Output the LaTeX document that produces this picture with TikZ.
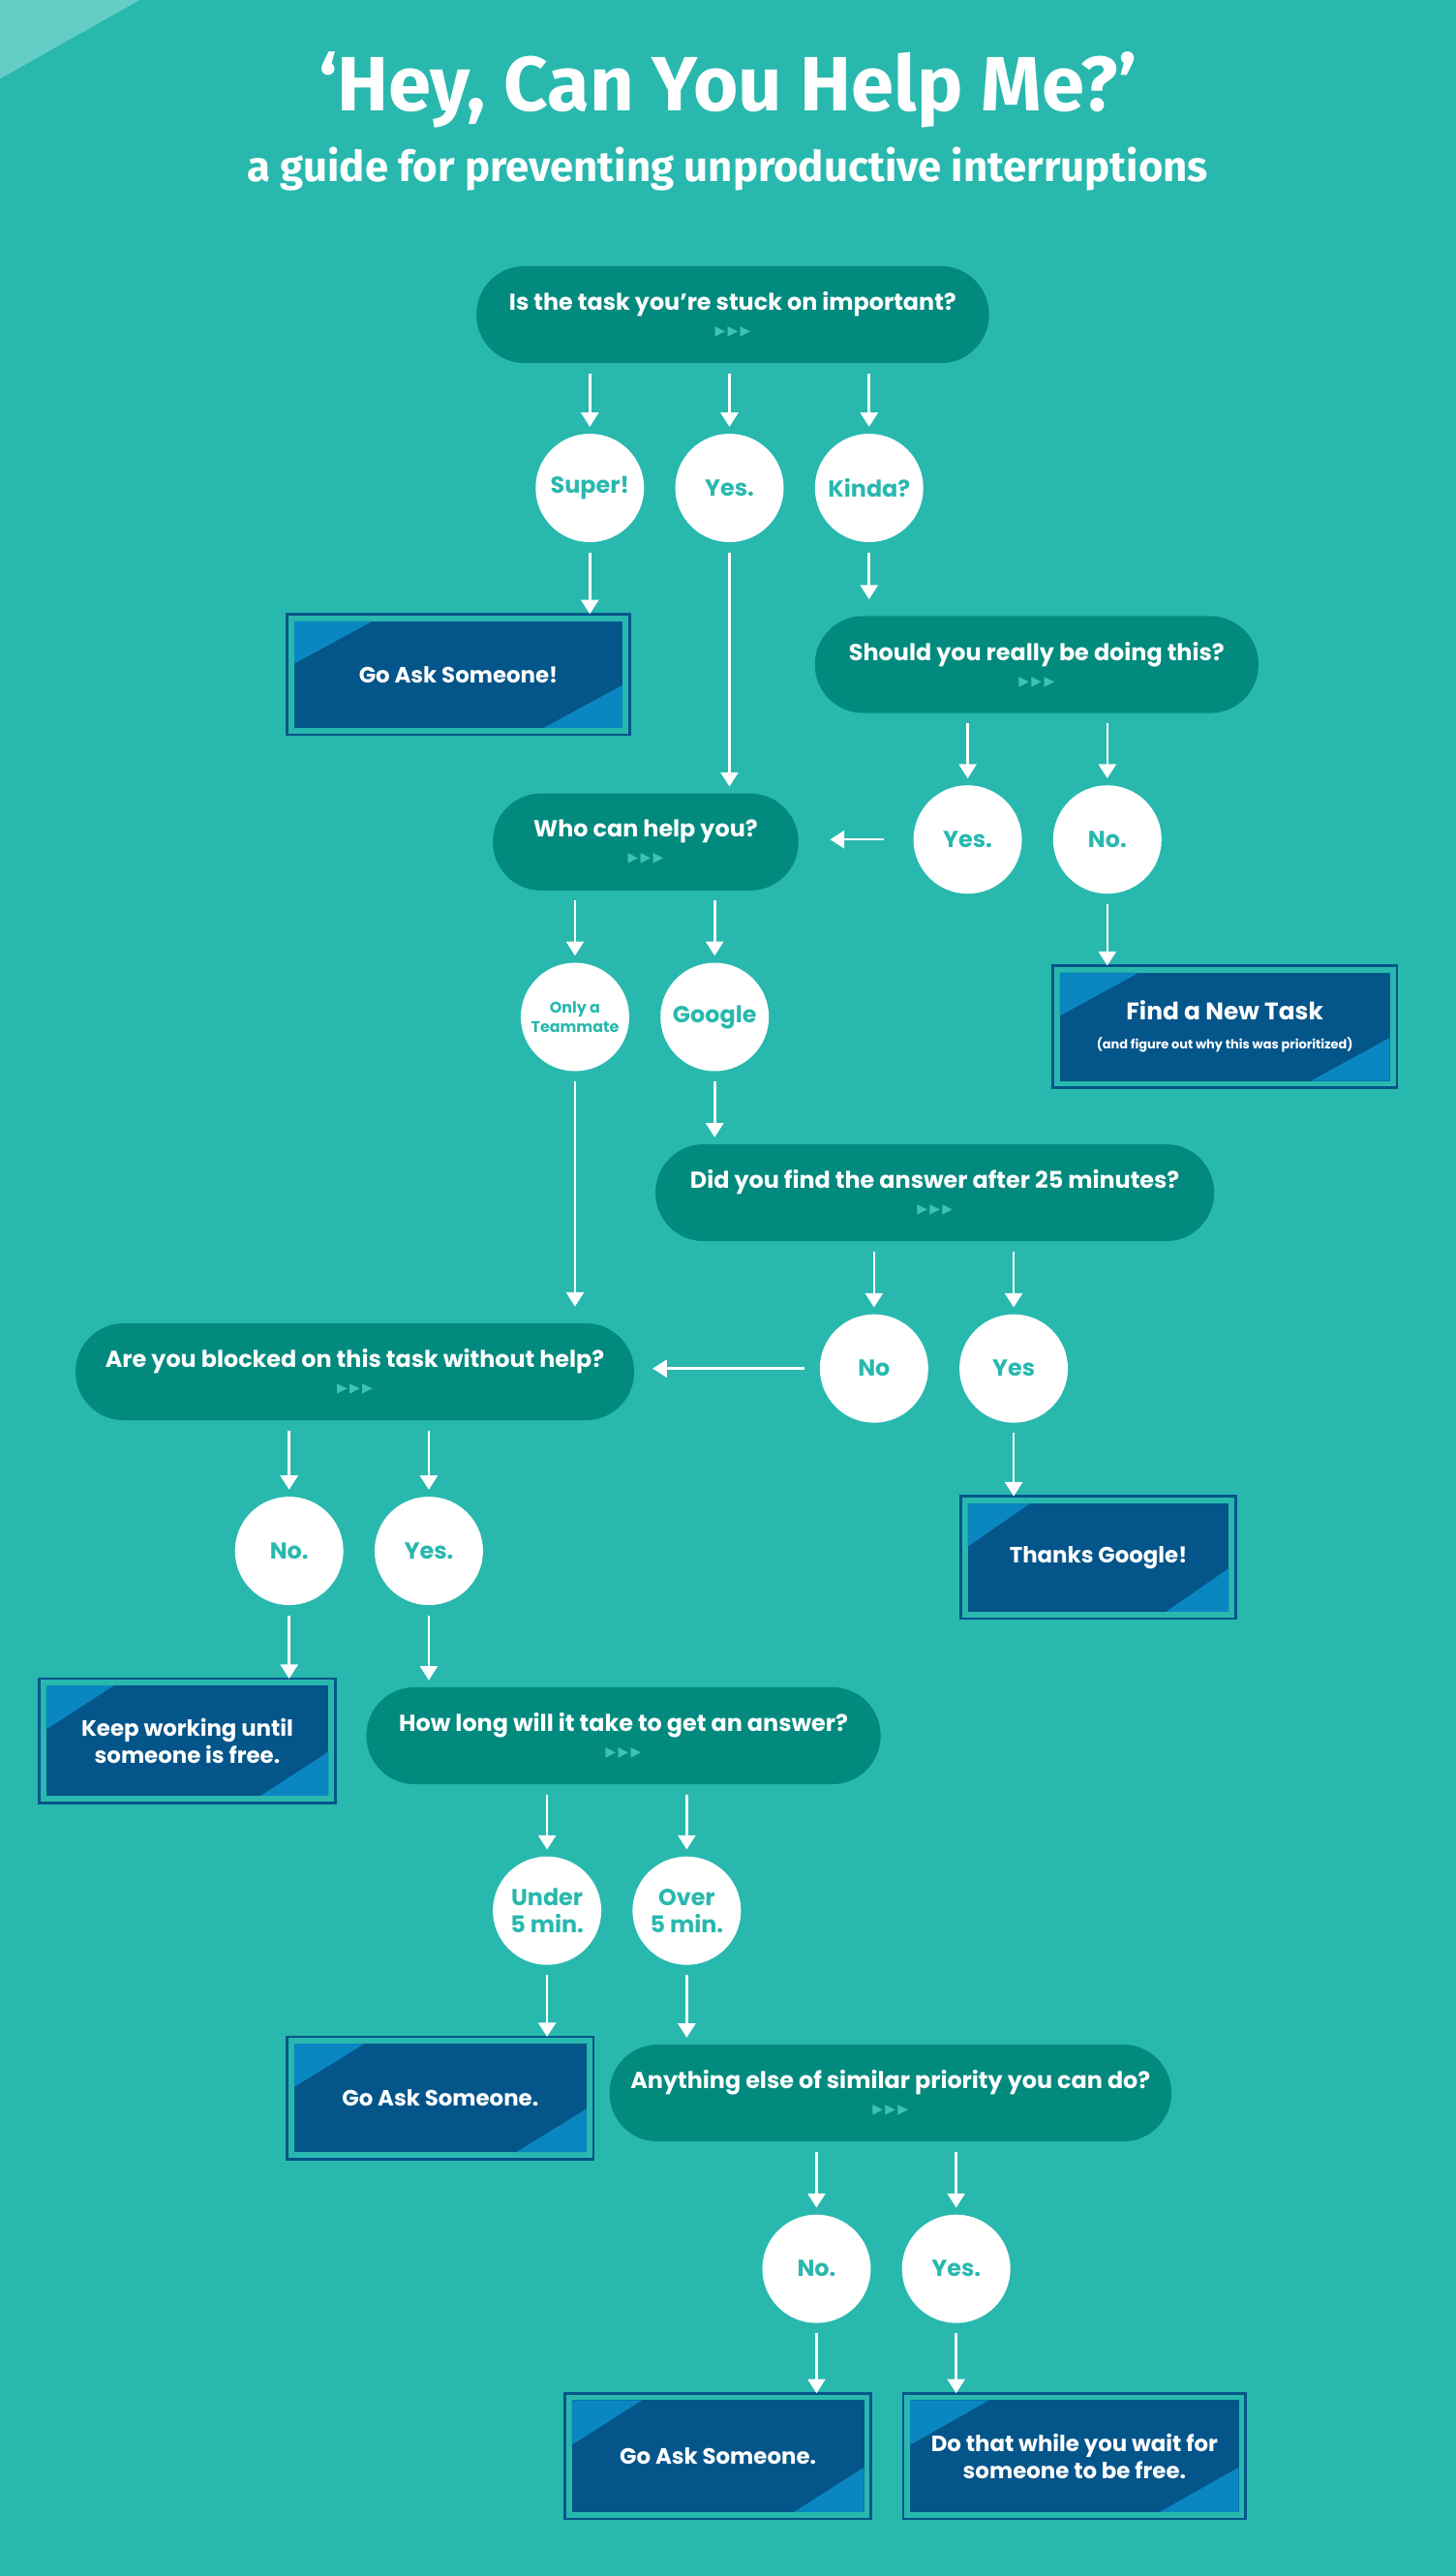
\documentclass[tikz,border=0pt]{standalone}
\usepackage{fontspec}
\setmainfont{Poppins}
\newfontfamily\titlefont{Fira Sans}
\newfontfamily\dv{DejaVu Sans}
\usetikzlibrary{arrows.meta,calc}
\definecolor{bg}{HTML}{28B8AE}
\definecolor{pillc}{HTML}{028A7E}
\definecolor{boxc}{HTML}{04558A}
\definecolor{tric}{HTML}{0A87C0}
\definecolor{lite}{HTML}{63CDC6}
\definecolor{tri3}{HTML}{3CC2B6}
\tikzset{
 x=0.3mm,y=-0.3mm,
 pill/.style={fill=pillc,rounded corners=8.8mm,minimum height=17.7mm,text=white,font=\bfseries\fontsize{12}{14}\selectfont,inner sep=0pt},
 circ/.style={circle,fill=white,minimum size=19.8mm,inner sep=0pt,text=bg,font=\bfseries\fontsize{12}{13}\selectfont,align=center},
 rbox/.style={fill=boxc,inner sep=0pt,text=white,align=center,font=\bfseries\fontsize{11.5}{14}\selectfont,
   path picture={
     \fill[tric] (path picture bounding box.north west) -- ($(path picture bounding box.north west)!0.24!(path picture bounding box.north east)$) -- ($(path picture bounding box.north west)!0.4!(path picture bounding box.south west)$) -- cycle;
     \fill[tric] (path picture bounding box.south east) -- ($(path picture bounding box.south east)!0.24!(path picture bounding box.south west)$) -- ($(path picture bounding box.south east)!0.4!(path picture bounding box.north east)$) -- cycle;
   }},
 outl/.style={draw=boxc,line width=0.5mm},
 arr/.style={draw=white,line width=0.45mm,-{Triangle[width=3.2mm,length=2.6mm]},shorten <=1.8mm,shorten >=1.2mm},
}
\newcommand\tris{\\[-1pt]{\dv\fontsize{7}{7}\selectfont\color{tri3}▶\,▶\,▶}}
\begin{document}
\begin{tikzpicture}
\fill[bg] (0,0) rectangle (886,1568);
\useasboundingbox (0,0) rectangle (886,1568);
\fill[lite] (0,0) -- (85,0) -- (0,48) -- cycle;
\node[text=white,font=\titlefont\bfseries\fontsize{40}{44}\selectfont] (title) at (443,55) {‘Hey, Can You Help Me?’};
\node[text=white,font=\titlefont\bfseries\fontsize{22}{26}\selectfont] (sub) at (443,103) {a guide for preventing unproductive interruptions};

% pills
\node[pill,minimum width=312*0.3mm,align=center] (p1) at (446,191.5) {Is the task you’re stuck on important?\tris};
\node[pill,minimum width=270*0.3mm,align=center] (p2) at (631,404.5) {Should you really be doing this?\tris};
\node[pill,minimum width=186*0.3mm,align=center] (p3) at (393,512.5) {Who can help you?\tris};
\node[pill,minimum width=340*0.3mm,align=center] (p4) at (569,726) {Did you find the answer after 25 minutes?\tris};
\node[pill,minimum width=340*0.3mm,align=center] (p5) at (216,835) {Are you blocked on this task without help?\tris};
\node[pill,minimum width=313*0.3mm,align=center] (p6) at (379.5,1056.5) {How long will it take to get an answer?\tris};
\node[pill,minimum width=342*0.3mm,align=center] (p7) at (542,1274) {Anything else of similar priority you can do?\tris};

% circles
\node[circ] (c1) at (359,297) {Super!};
\node[circ] (c2) at (444,297) {Yes.};
\node[circ] (c3) at (529,297) {Kinda?};
\node[circ] (c4) at (589,511) {Yes.};
\node[circ] (c5) at (674,511) {No.};
\node[circ,font=\bfseries\fontsize{8}{10}\selectfont] (c6) at (350,619) {Only a\\Teammate};
\node[circ] (c7) at (435,619) {Google};
\node[circ] (c8) at (532,833) {No};
\node[circ] (c9) at (617,833) {Yes};
\node[circ] (c10) at (176,944) {No.};
\node[circ] (c11) at (261,944) {Yes.};
\node[circ,font=\bfseries\fontsize{12}{14}\selectfont] (c12) at (333,1163) {Under\\5 min.};
\node[circ,font=\bfseries\fontsize{12}{14}\selectfont] (c13) at (418,1163) {Over\\5 min.};
\node[circ] (c14) at (497,1381) {No.};
\node[circ] (c15) at (582,1381) {Yes.};

% result boxes
\node[rbox,minimum width=200*0.3mm,minimum height=65*0.3mm] (b1) at (279,410.5) {Go Ask Someone!};
\node[rbox,minimum width=201*0.3mm,minimum height=66*0.3mm] (b2) at (745.5,625) {{\fontsize{12.5}{14}\selectfont Find a New Task}\\[1pt]{\fontsize{6.5}{8}\selectfont (and figure out why this was prioritized)}};
\node[rbox,minimum width=159*0.3mm,minimum height=66*0.3mm] (b3) at (668.5,948) {Thanks Google!};
\node[rbox,minimum width=172*0.3mm,minimum height=67*0.3mm] (b4) at (114,1059.5) {Keep working until\\someone is free.};
\node[rbox,minimum width=178*0.3mm,minimum height=66*0.3mm] (b5) at (268,1277) {Go Ask Someone.};
\node[rbox,minimum width=178*0.3mm,minimum height=68*0.3mm] (b6) at (437,1495) {Go Ask Someone.};
\node[rbox,minimum width=200*0.3mm,minimum height=68*0.3mm] (b7) at (654,1495) {Do that while you wait for\\someone to be free.};
\foreach \b in {b1,b2,b3,b4,b5,b6,b7}
  \draw[outl] ([xshift=-1.2mm,yshift=1.2mm]\b.north west) rectangle ([xshift=1.2mm,yshift=-1.2mm]\b.south east);

% connectors
\foreach \c in {c1,c2,c3} \draw[arr] (p1.south -| \c) -- (\c.north);
\draw[arr] (c1.south) -- (c1.south |- b1.north);
\draw[arr,shorten >=3mm] (c3.south) -- (c3.south |- p2.north);
\draw[arr] (c2.south) -- (c2.south |- p3.north);
\foreach \c in {c4,c5} \draw[arr] (p2.south -| \c) -- (\c.north);
\draw[arr,shorten <=5.4mm,shorten >=5.7mm] (c4.west) -- (c4.west -| p3.east);
\draw[arr] (c5.south) -- (c5.south |- b2.north);
\foreach \c in {c6,c7} \draw[arr] (p3.south -| \c) -- (\c.north);
\draw[arr] (c7.south) -- (c7.south |- p4.north);
\draw[arr,shorten >=3mm] (c6.south) -- (c6.south |- p5.north);
\foreach \c in {c8,c9} \draw[arr] (p4.south -| \c) -- (\c.north);
\draw[arr,shorten <=2.7mm,shorten >=3.3mm] (c8.west) -- (c8.west -| p5.east);
\draw[arr] (c9.south) -- (c9.south |- b3.north);
\foreach \c in {c10,c11} \draw[arr] (p5.south -| \c) -- (\c.north);
\draw[arr] (c10.south) -- (c10.south |- b4.north);
\draw[arr] (c11.south) -- (c11.south |- p6.north);
\foreach \c in {c12,c13} \draw[arr] (p6.south -| \c) -- (\c.north);
\draw[arr] (c12.south) -- (c12.south |- b5.north);
\draw[arr] (c13.south) -- (c13.south |- p7.north);
\foreach \c in {c14,c15} \draw[arr] (p7.south -| \c) -- (\c.north);
\draw[arr] (c14.south) -- (c14.south |- b6.north);
\draw[arr] (c15.south) -- (c15.south |- b7.north);
\end{tikzpicture}
\end{document}
